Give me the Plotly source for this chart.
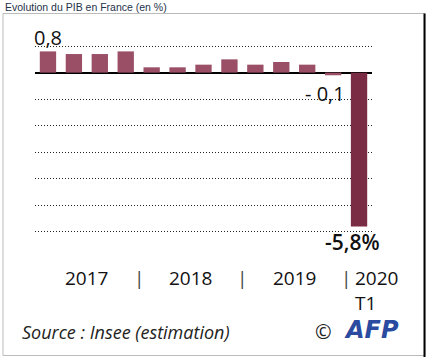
import plotly.graph_objects as go

# ---- data ----
quarters = ["2017 T1", "2017 T2", "2017 T3", "2017 T4",
            "2018 T1", "2018 T2", "2018 T3", "2018 T4",
            "2019 T1", "2019 T2", "2019 T3", "2019 T4",
            "2020 T1"]
growth = [0.8, 0.7, 0.7, 0.8, 0.2, 0.2, 0.3, 0.5, 0.3, 0.4, 0.3, -0.1, -5.8]
title_text = "Evolution du PIB en France (en %)"
source_text = "Source : Insee (estimation)"

W, H = 434, 362
L, R, T, B = 35, 62, 19, 103
pw, ph = W - L - R, H - T - B

def px(x):  # pixel x -> paper
    return (x - L) / pw

def py(y):  # pixel y -> paper
    return (H - B - y) / ph

idx = list(range(len(quarters)))
colors = ["#9a4f66"] * (len(growth) - 1) + ["#7b2c45"]

fig = go.Figure(go.Bar(
    x=idx, y=growth, marker=dict(color=colors, line=dict(width=0)),
    width=0.63, hoverinfo="skip",
))

ann = []
num_font = dict(family="Open Sans", size=19, color="#111")

# value labels
ann.append(dict(x=0, y=growth[0] + 0.52, xref="x", yref="y", text="0,8",
                showarrow=False, xanchor="center", yanchor="middle",
                font=dict(family="Open Sans", size=20, color="#111")))
ann.append(dict(x=len(growth) - 1.5, y=growth[-2] - 0.7, xref="x", yref="y",
                text="- 0,1", showarrow=False, xanchor="right", yanchor="middle",
                xshift=1, font=dict(family="Open Sans", size=20, color="#111")))
ann.append(dict(x=len(growth) - 1, y=growth[-1] - 0.58, xref="x", yref="y",
                text="-5,8%", showarrow=False, xanchor="center", yanchor="middle",
                xshift=-7, font=dict(family="Open Sans", size=21, color="#111", weight=600)))

# year labels below the axis
years = []
for q in quarters:
    yr = q.split()[0]
    if yr not in years:
        years.append(yr)
for yr in years[:-1]:
    pos = [i for i, q in enumerate(quarters) if q.startswith(yr)]
    ann.append(dict(x=sum(pos) / len(pos), y=py(278), xref="x", yref="paper",
                    text=yr, showarrow=False, xanchor="center", yanchor="middle",
                    font=num_font))
    ann.append(dict(x=pos[-1] + 0.5, y=py(278), xref="x", yref="paper",
                    text="|", showarrow=False, xanchor="center", yanchor="middle",
                    font=dict(family="Open Sans", size=19, color="#444")))
last = quarters[-1].split()
ann.append(dict(x=len(quarters) - 1.5, y=py(290), xref="x", yref="paper",
                text=last[0] + "<br>" + last[1], showarrow=False, xanchor="left",
                yanchor="middle", align="left", xshift=7, font=num_font))

# title, source, credit
ann.append(dict(x=px(3), y=py(7), xref="paper", yref="paper", text=title_text,
                showarrow=False, xanchor="left", yanchor="middle",
                font=dict(family="Liberation Sans", size=10.5, color="#24324a")))
ann.append(dict(x=px(20), y=py(332), xref="paper", yref="paper", text=source_text,
                showarrow=False, xanchor="left", yanchor="middle",
                font=dict(family="Open Sans", size=18, color="#222", style="italic")))
ann.append(dict(x=px(334), y=py(331), xref="paper", yref="paper", text="©",
                showarrow=False, xanchor="right", yanchor="middle",
                font=dict(family="Open Sans", size=20, color="#222")))
ann.append(dict(x=px(342), y=py(330), xref="paper", yref="paper", text="AFP",
                showarrow=False, xanchor="left", yanchor="middle",
                font=dict(family="DejaVu Sans", size=24, color="#2a4ba0",
                          weight="bold", style="italic")))

shapes = [
    dict(type="rect", xref="paper", yref="paper", x0=px(3), x1=px(425),
         y0=py(355.5), y1=py(13.5), line=dict(color="#bbbbbb", width=1)),
    dict(type="line", xref="paper", yref="paper", x0=px(424.5), x1=px(424.5),
         y0=py(357), y1=py(13.5), line=dict(color="#000", width=2)),
]

fig.update_layout(
    width=W, height=H,
    margin=dict(l=L, r=R, t=T, b=B),
    paper_bgcolor="white", plot_bgcolor="white",
    showlegend=False, bargap=0.37,
    annotations=ann, shapes=shapes,
    xaxis=dict(range=[-0.5, len(quarters) - 0.5], showticklabels=False,
               showgrid=False, zeroline=False, showline=False, ticks=""),
    yaxis=dict(range=[-7.02, 2.02], dtick=1, tick0=0, showticklabels=False,
               showgrid=True, gridcolor="#222", gridwidth=1, griddash="1px,2px",
               zeroline=True, zerolinecolor="#000", zerolinewidth=2,
               showline=False, ticks=""),
)

fig.write_html("out.html", config={"displayModeBar": False},
               post_script="document.body.style.margin='0';")
